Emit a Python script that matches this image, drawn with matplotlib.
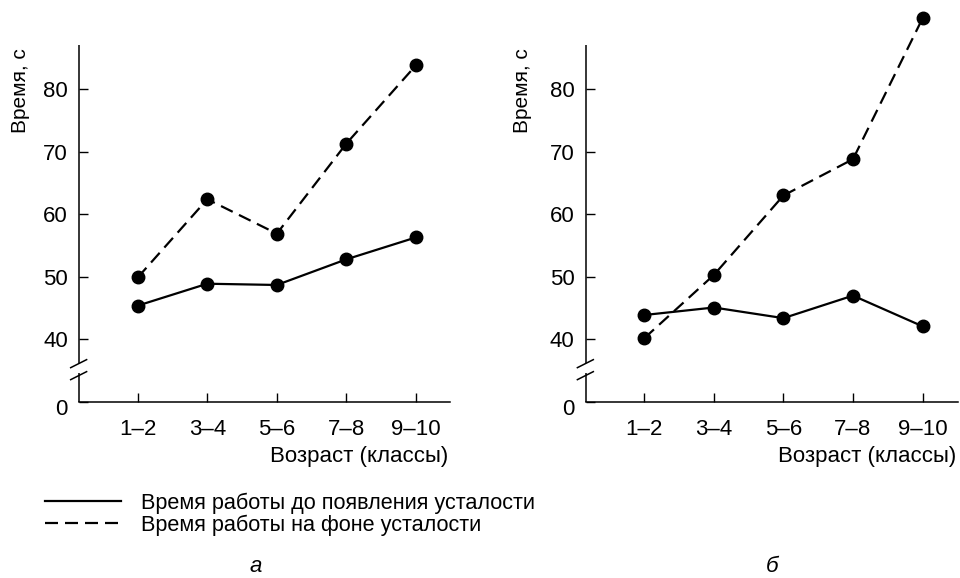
import numpy as np
import matplotlib
matplotlib.use("Agg")
import matplotlib.pyplot as plt
from matplotlib.lines import Line2D
from matplotlib.transforms import ScaledTranslation

plt.rcParams['font.family'] = ['Liberation Sans', 'DejaVu Sans']

# Age groups (school grades)
grades = ["1–2", "3–4", "5–6", "7–8", "9–10"]

# Panel а: working time, s
a_before = [45.4, 48.9, 48.7, 52.8, 56.3]   # before fatigue sets in
a_fatigue = [49.9, 62.4, 56.9, 71.3, 83.8]  # against a background of fatigue

# Panel б
b_before = [43.9, 45.1, 43.4, 47.0, 42.1]
b_fatigue = [40.2, 50.3, 63.0, 68.8, 91.3]

y_ticks = [0, 40, 50, 60, 70, 80]
legend_labels = ["Время работы до появления усталости",
                 "Время работы на фоне усталости"]
panel_letters = ["а", "б"]

FS = 16
LW = 1.6
DASH = [5.85, 3.15]


# Broken y axis: values below 40 are squeezed so that 0 sits just under the break
def fwd(v):
    v = np.asarray(v, dtype=float)
    return np.where(v >= 40, v, 30 + 0.25 * v)


def inv(y):
    y = np.asarray(y, dtype=float)
    return np.where(y >= 40, y, (y - 30) * 4)


W, H = 960, 578
fig = plt.figure(figsize=(W / 100, H / 100), dpi=100)

bottom_px, top_px = 402, 14
panels = [
    dict(left=79, right=450, xlim=(-0.845, 4.49), before=a_before, fatigue=a_fatigue,
         ylab_x=20, letter_x=256),
    dict(left=585.7, right=958, xlim=(-0.843, 4.51), before=b_before, fatigue=b_fatigue,
         ylab_x=522.5, letter_x=772),
]

x = np.arange(len(grades))
for i, p in enumerate(panels):
    ax = fig.add_axes([p['left'] / W, 1 - bottom_px / H,
                       (p['right'] - p['left']) / W, (bottom_px - top_px) / H])
    ax.set_yscale('function', functions=(fwd, inv))
    ax.set_ylim(0, 92)
    ax.set_xlim(*p['xlim'])

    ax.plot(x, p['before'], color='black', lw=LW, marker='o', ms=9,
            solid_capstyle='butt', clip_on=False, zorder=3)
    ax.plot(x, p['fatigue'], color='black', lw=LW, ls='--', dashes=DASH,
            marker='o', ms=9, clip_on=False, zorder=3)

    ax.set_xticks(x)
    ax.set_xticklabels(grades)
    ax.set_yticks(y_ticks)
    ax.set_yticklabels([str(t) for t in y_ticks])
    ax.tick_params(axis='x', direction='in', length=6.5, width=1.0, pad=12.0,
                   labelsize=FS)
    ax.tick_params(axis='y', direction='in', length=6.5, width=1.0, pad=8,
                   labelsize=FS)
    # the zero label sits slightly below the axis line
    zero_lbl = ax.yaxis.get_major_ticks()[0].label1
    zero_lbl.set_transform(zero_lbl.get_transform()
                           + ScaledTranslation(0, -3.5 / 72, fig.dpi_scale_trans))

    for s in ('top', 'right', 'left'):
        ax.spines[s].set_visible(False)
    ax.spines['bottom'].set_linewidth(1.1)

    # left spine drawn in two pieces with a break between them
    ax_w = p['right'] - p['left']
    ax_h = bottom_px - top_px
    fy = lambda py: (bottom_px - py) / ax_h
    fx = lambda px: px / ax_w
    kw = dict(transform=ax.transAxes, color='black', lw=1.1, clip_on=False,
              solid_capstyle='butt')
    ax.plot([0, 0], [0, fy(373)], **kw)
    ax.plot([0, 0], [fy(363), fy(45)], **kw)
    for y0 in (368, 380):
        ax.plot([fx(-9), fx(8.3)], [fy(y0), fy(y0 - 8.7)], **kw)

    ax.text(fx(p['ylab_x'] - p['left']), fy(90.5), "Время, с", rotation=90,
            ha='center', va='center', fontsize=15, transform=ax.transAxes)
    ax.text(fx(ax_w - 2), fy(462), "Возраст (классы)", ha='right',
            va='baseline', fontsize=FS, transform=ax.transAxes)

    fig.text(p['letter_x'] / W, 1 - 572 / H, panel_letters[i], ha='center',
             va='baseline', fontsize=FS, style='italic')

handles = [Line2D([], [], color='black', lw=LW),
           Line2D([], [], color='black', lw=LW, ls='--', dashes=DASH)]
fig.legend(handles, legend_labels, loc='center left',
           bbox_to_anchor=(45 / W, 1 - 514 / H), frameon=False, fontsize=15.6,
           handlelength=3.5, handletextpad=0.92, labelspacing=0.04,
           borderpad=0, borderaxespad=0)

fig.savefig("out.png", dpi=100)
